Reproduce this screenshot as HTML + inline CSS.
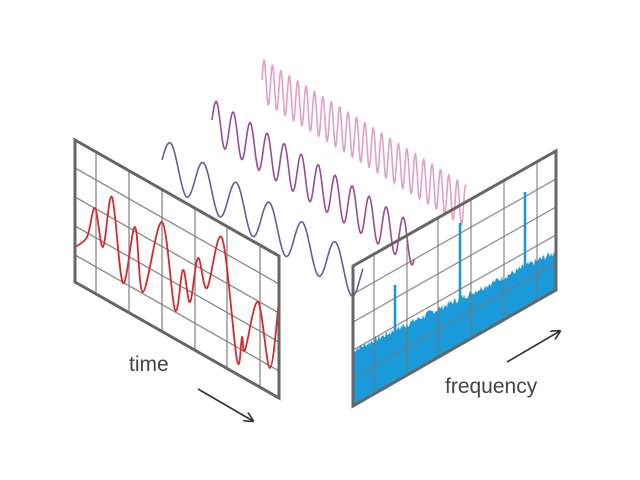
<!DOCTYPE html>
<html><head><meta charset="utf-8"><style>
html,body{margin:0;padding:0;background:#fff;}
svg{display:block}
text{font-family:"Liberation Sans",sans-serif;fill:#444;font-size:21px}
</style></head><body>
<svg id="s" width="640" height="480" viewBox="0 0 640 480" xmlns="http://www.w3.org/2000/svg">
<defs>
<clipPath id="cl"><polygon points="75,140 279,256 279,398 75,282"/></clipPath>
<clipPath id="cr"><polygon points="353,266 556,151 556,290 353,406"/></clipPath>
<marker id="ah" markerWidth="10" markerHeight="10" refX="9" refY="5" orient="auto" markerUnits="userSpaceOnUse"><path d="M0,0 L10,5 L0,10" fill="none" stroke="#333" stroke-width="1.6"/></marker>
</defs>
<g id="waves" fill="none" stroke-width="1.6"></g>
<g id="left"></g>
<g id="right"></g>
<polygon points="75,140 279,256 279,398 75,282" fill="none" stroke="#666" stroke-width="3"/>
<polygon points="353,266 556,151 556,290 353,406" fill="none" stroke="#666" stroke-width="3"/>
<line x1="198" y1="389" x2="253" y2="421" stroke="#333" stroke-width="1.6" marker-end="url(#ah)"/>
<line x1="507" y1="362" x2="560" y2="331" stroke="#333" stroke-width="1.6" marker-end="url(#ah)"/>
<text x="129" y="371">time</text>
<text x="445" y="393">frequency</text>
</svg>
<script>
var NS="http://www.w3.org/2000/svg";
function el(p,t,a){var e=document.createElementNS(NS,t);for(var k in a)e.setAttribute(k,a[k]);p.appendChild(e);return e;}
var W=document.getElementById('waves');
function wave(x0,x1,y0,slope,amp,per,ph,col){
 var d="";for(var x=x0;x<=x1;x+=0.25){var y=y0+slope*(x-x0)-amp*Math.sin(2*Math.PI*(x-x0)/per+ph);d+=(d?"L":"M")+x.toFixed(2)+","+y.toFixed(1);}
 el(W,'path',{d:d,stroke:col});}
wave(262,466,80,0.62,21,8.4,0,'#e0a0c8');
wave(212,414,120,0.62,21,17,0,'#9a4a92');
wave(162,363,160,0.6,22,33,0,'#6a5a98');
// left grid
var L=document.getElementById('left');
var g=el(L,'g',{'clip-path':'url(#cl)',stroke:'#888','stroke-width':'1.3'});
[96,129,162,195,227,260].forEach(function(x){var yt=140+(x-75)*116/204;el(g,'line',{x1:x,y1:yt,x2:x,y2:yt+142});});
[168,197,226,255].forEach(function(y){el(g,'line',{x1:75,y1:y,x2:279,y2:y+116});});
var pts=[[75,247],[87,237],[95,208],[103,247],[112,197],[123,283],[135,227],[143,292],[162,222],[175,310],[183,270],[190,302],[198,258],[207,288],[222,238],[237,360],[242,337],[245,350],[258,302],[270,368],[279,300]];
var d="M"+pts[0];for(var i=0;i<pts.length-1;i++){var p0=pts[Math.max(0,i-1)],p1=pts[i],p2=pts[i+1],p3=pts[Math.min(pts.length-1,i+2)];
 d+=" C"+(p1[0]+(p2[0]-p0[0])/6)+","+(p1[1]+(p2[1]-p0[1])/6)+" "+(p2[0]-(p3[0]-p1[0])/6)+","+(p2[1]-(p3[1]-p1[1])/6)+" "+p2[0]+","+p2[1];}
el(L,'path',{d:d,fill:'none',stroke:'#d42a30','stroke-width':'1.8','clip-path':'url(#cl)'});
// right
var R=document.getElementById('right');
var gr=el(R,'g',{'clip-path':'url(#cr)'});
var seed=7;function rnd(){seed=(seed*9301+49297)%233280;return seed/233280;}
var sp="M353,410";
for(var x=353;x<=557;x+=1){var base=352-(x-353)*99/203;var y=base-rnd()*7+2;sp+=" L"+x+","+y.toFixed(1);}
sp+=" L557,410 Z";
el(gr,'path',{d:sp,fill:'#1a9ad8'});
[[395,285,352-42*99/203],[460,223,352-107*99/203],[525,192,352-172*99/203]].forEach(function(s){
 el(gr,'rect',{x:s[0]-1.3,y:s[1],width:2.6,height:s[2]-s[1]+4,fill:'#1a9ad8'});});
[374,407,438,471,504,537].forEach(function(x){var yt=266-(x-353)*115/203;el(gr,'line',{x1:x,y1:yt,x2:x,y2:yt+140,stroke:'#777','stroke-width':'1.3','stroke-opacity':'0.8'});});
[294,322,350,378].forEach(function(y){el(gr,'line',{x1:353,y1:y,x2:556,y2:y-115,stroke:'#777','stroke-width':'1.3','stroke-opacity':'0.8'});});
</script>
</body></html>
